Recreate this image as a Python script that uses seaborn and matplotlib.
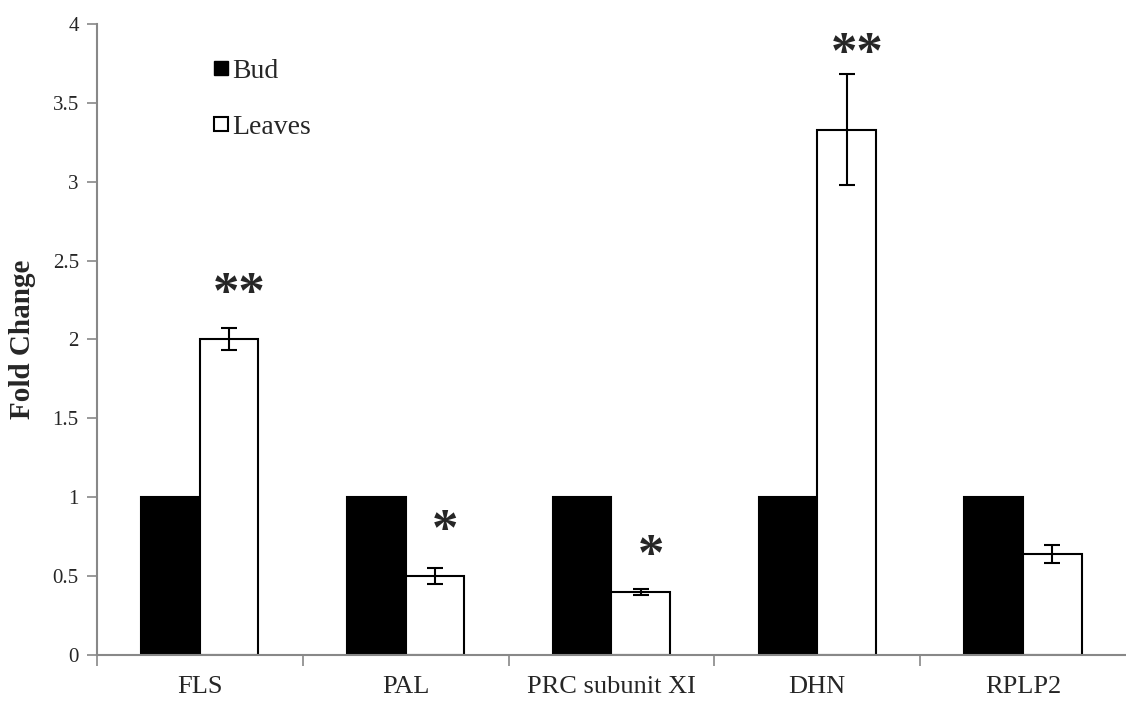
import pandas as pd
import matplotlib
matplotlib.use("Agg")
import matplotlib.pyplot as plt
from matplotlib.lines import Line2D
import seaborn as sns

genes = ["FLS", "PAL", "PRC subunit XI", "DHN", "RPLP2"]
bud = [1.0, 1.0, 1.0, 1.0, 1.0]
leaves = [2.0, 0.50, 0.40, 3.33, 0.64]
leaves_err = [0.07, 0.05, 0.02, 0.35, 0.06]
stars = ["**", "*", "*", "**", ""]
star_y = [2.28, 0.78, 0.62, 3.80, 0]

df = pd.DataFrame({
    "gene": genes * 2,
    "tissue": ["Bud"] * len(genes) + ["Leaves"] * len(genes),
    "fold": bud + leaves,
})

sns.set_style("white")
plt.rcParams['font.family'] = ['Liberation Serif', 'DejaVu Serif']

fig = plt.figure(figsize=(11.26, 7.02), dpi=100)
ax = fig.add_axes([0.086, 0.067, 0.914, 0.899])

sns.barplot(data=df, x="gene", y="fold", hue="tissue", order=genes,
            hue_order=["Bud", "Leaves"], palette={"Bud": "black", "Leaves": "white"},
            edgecolor="black", linewidth=1.5, width=0.57, errorbar=None,
            legend=False, ax=ax)

# error bars and asterisks on the leaves bars
leaf_bars = ax.containers[1]
for bar, val, err, s, sy in zip(leaf_bars, leaves, leaves_err, stars, star_y):
    cx = bar.get_x() + bar.get_width() / 2
    ax.errorbar(cx, val, yerr=err, fmt="none", ecolor="black", elinewidth=1.5,
                capsize=6, capthick=1.5)
    if s:
        ax.text(cx + 0.05, sy, s, ha="center", va="center", fontsize=38,
                fontweight="bold")

ax.set_xlim(-0.5, 4.5)
ax.set_ylim(0, 4)
ax.set_yticks([0, 0.5, 1, 1.5, 2, 2.5, 3, 3.5, 4])
ax.set_yticklabels(["0", "0.5", "1", "1.5", "2", "2.5", "3", "3.5", "4"], fontsize=15)
ax.set_xticks(range(len(genes)))
ax.set_xticklabels(genes, fontsize=19)
ax.set_xticks([-0.5, 0.5, 1.5, 2.5, 3.5], minor=True)
ax.tick_params(axis="x", which="major", bottom=False, pad=12)
ax.tick_params(axis="x", which="minor", bottom=True, length=8, color="#888888",
               width=1.2, direction="out")
ax.tick_params(axis="y", left=True, length=7, color="#888888", width=1.2,
               direction="out", pad=6)
ax.set_xlabel("")
ax.set_ylabel("Fold Change", fontsize=21, fontweight="bold", labelpad=12)

for side in ["top", "right"]:
    ax.spines[side].set_visible(False)
for side in ["left", "bottom"]:
    ax.spines[side].set_color("#888888")
    ax.spines[side].set_linewidth(1.5)

handles = [
    Line2D([], [], marker="s", color="none", markerfacecolor="black",
           markeredgecolor="black", markersize=10, label="Bud"),
    Line2D([], [], marker="s", color="none", markerfacecolor="white",
           markeredgecolor="black", markersize=10, markeredgewidth=1.5, label="Leaves"),
]
ax.legend(handles=handles, loc="upper left", bbox_to_anchor=(0.09, 0.985),
          frameon=False, fontsize=20, handlelength=0.5, handletextpad=0.15,
          labelspacing=1.1)

fig.savefig("out.png", dpi=100)
